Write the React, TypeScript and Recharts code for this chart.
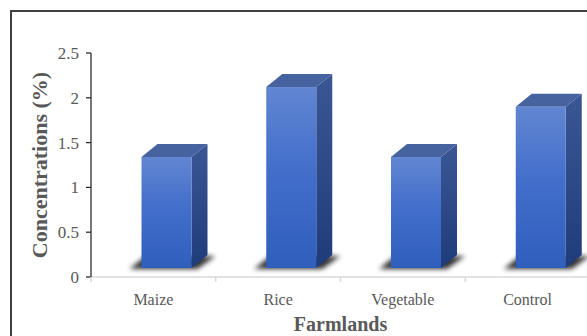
import { BarChart, Bar, XAxis, YAxis, Label } from "recharts";

const farmlands = ["Maize", "Rice", "Vegetable", "Control"];
const concentrations = [1.34, 2.12, 1.34, 1.9];
const yTicks = [0, 0.5, 1, 1.5, 2, 2.5];

const data = farmlands.map((name, i) => ({ name, value: concentrations[i] }));

// plot frame
const CHART_W = 600;
const CHART_H = 336;
const PLOT_LEFT = 91;
const PLOT_RIGHT = 590;
const PLOT_TOP = 53;
const PLOT_BOTTOM = 277;
const Y_AXIS_W = 40;
const X_AXIS_H = 30;

// 3d column geometry
const DEPTH_X = 16;
const DEPTH_Y = 13;
const SHIFT = 13.5;
const LIFT = 9;

const SERIF = "'Liberation Serif', 'Times New Roman', serif";
const TEXT = "#595959";

function Column3D(props: any) {
  const { x, y, width, height } = props;
  const fl = x + SHIFT;
  const fr = fl + width;
  const ft = y;
  const fb = y + height - LIFT;
  const shadow = [
    [fl - 12, fb + 1],
    [fr + 6, fb + 1],
    [fr + DEPTH_X + 8, fb - DEPTH_Y + 1],
    [fl + DEPTH_X - 12, fb - DEPTH_Y + 1],
  ];
  const top = [
    [fl, ft],
    [fl + DEPTH_X, ft - DEPTH_Y],
    [fr + DEPTH_X, ft - DEPTH_Y],
    [fr, ft],
  ];
  const side = [
    [fr, ft],
    [fr + DEPTH_X, ft - DEPTH_Y],
    [fr + DEPTH_X, fb - DEPTH_Y],
    [fr, fb],
  ];
  const pts = (p: number[][]) => p.map((q) => q.join(",")).join(" ");
  return (
    <g>
      <polygon points={pts(shadow)} fill="#000" opacity={0.8} filter="url(#baseShadow)" />
      <polygon points={pts(side)} fill="url(#sideGrad)" />
      <polygon points={pts(top)} fill="#46629f" />
      <rect x={fl} y={ft} width={width} height={fb - ft} fill="url(#frontGrad)" />
    </g>
  );
}

function CategoryTick(props: any) {
  const { x, payload } = props;
  const band = (PLOT_RIGHT - PLOT_LEFT) / farmlands.length;
  const left = x - band / 2;
  return (
    <g>
      <line x1={left} y1={PLOT_BOTTOM} x2={left} y2={PLOT_BOTTOM + 5} stroke="#d9d9d9" strokeWidth={1.5} />
      <text x={x} y={PLOT_BOTTOM + 28} textAnchor="middle" fill={TEXT} fontFamily={SERIF} fontSize={16}>
        {payload.value}
      </text>
    </g>
  );
}

export default function App() {
  return (
    <div
      style={{
        position: "absolute",
        left: 0,
        top: 0,
        width: 587,
        height: 336,
        overflow: "hidden",
        background: "#fff",
      }}
    >
      <BarChart
        width={CHART_W}
        height={CHART_H}
        data={data}
        barSize={50}
        margin={{
          top: PLOT_TOP,
          right: CHART_W - PLOT_RIGHT,
          bottom: CHART_H - PLOT_BOTTOM - X_AXIS_H,
          left: PLOT_LEFT - Y_AXIS_W,
        }}
      >
        <defs>
          <linearGradient id="frontGrad" x1="0" y1="0" x2="0" y2="1">
            <stop offset="0%" stopColor="#6186d2" />
            <stop offset="45%" stopColor="#436fcb" />
            <stop offset="100%" stopColor="#2f5ebd" />
          </linearGradient>
          <linearGradient id="sideGrad" x1="0" y1="0" x2="0" y2="1">
            <stop offset="0%" stopColor="#3b5694" />
            <stop offset="100%" stopColor="#1f3c7a" />
          </linearGradient>
          <filter id="baseShadow" x="-30%" y="-100%" width="160%" height="300%">
            <feGaussianBlur stdDeviation="2.5" />
          </filter>
        </defs>
        <XAxis
          dataKey="name"
          height={X_AXIS_H}
          axisLine={{ stroke: "#d9d9d9", strokeWidth: 1.5 }}
          tickLine={false}
          tick={<CategoryTick />}
          interval={0}
        >
          <Label
            content={() => (
              <text
                x={(PLOT_LEFT + PLOT_RIGHT) / 2}
                y={331}
                textAnchor="middle"
                fill={TEXT}
                fontFamily={SERIF}
                fontWeight="bold"
                fontSize={20}
              >
                Farmlands
              </text>
            )}
          />
        </XAxis>
        <YAxis
          width={Y_AXIS_W}
          domain={[0, 2.5]}
          ticks={yTicks}
          interval={0}
          axisLine={{ stroke: "#262626", strokeWidth: 1.25 }}
          tickLine={{ stroke: "#262626", strokeWidth: 1.25 }}
          tickSize={5}
          tickMargin={7}
          tick={{ fill: TEXT, fontFamily: SERIF, fontSize: 17 }}
        >
          <Label
            content={() => (
              <text
                x={0}
                y={0}
                transform={`translate(47, ${(PLOT_TOP + PLOT_BOTTOM) / 2}) rotate(-90)`}
                textAnchor="middle"
                fill={TEXT}
                fontFamily={SERIF}
                fontWeight="bold"
                fontSize={22}
              >
                Concentrations (%)
              </text>
            )}
          />
        </YAxis>
        <Bar dataKey="value" shape={<Column3D />} isAnimationActive={false} />
      </BarChart>
      <div
        style={{
          position: "absolute",
          left: 10,
          top: 10,
          width: 700,
          height: 500,
          borderLeft: "2px solid #404040",
          borderTop: "2px solid #404040",
          pointerEvents: "none",
        }}
      />
    </div>
  );
}
